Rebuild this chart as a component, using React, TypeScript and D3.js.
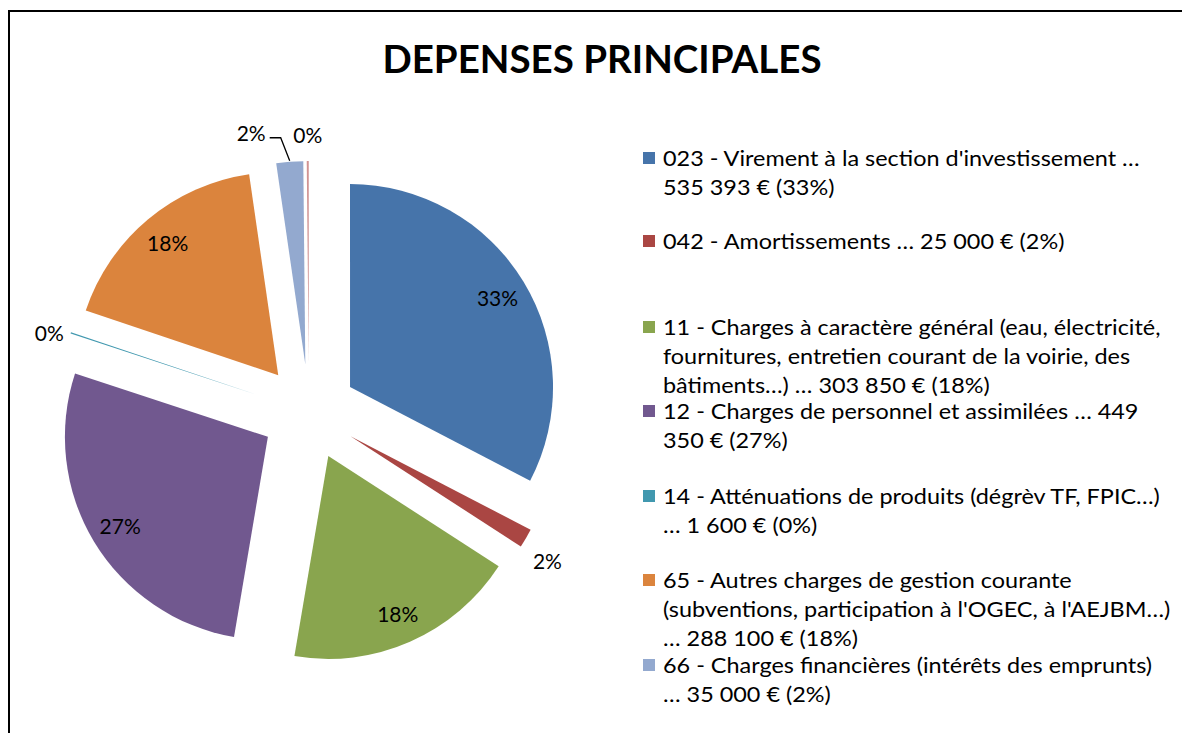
import React from "react";
import * as d3 from "d3";

const categories = [
  "023 - Virement à la section d'investissement",
  "042 - Amortissements",
  "11 - Charges à caractère général",
  "12 - Charges de personnel et assimilées",
  "14 - Atténuations de produits",
  "65 - Autres charges de gestion courante",
  "66 - Charges financières",
  "67 - Charges exceptionnelles",
];
const values = [535393, 25000, 303850, 449350, 1600, 288100, 35000, 2600];
const colors = ["#4674AA", "#AA4643", "#89A54E", "#71588F", "#4198AF", "#DB843D", "#93A9CF", "#D19392"];
const pctLabels = ["33%", "2%", "18%", "27%", "0%", "18%", "2%", "0%"];
const legendLines = [
  ["023 - Virement à la section d'investissement …", "535 393 € (33%)"],
  ["042 - Amortissements … 25 000 € (2%)"],
  ["11 - Charges à caractère général (eau, électricité,", "fournitures, entretien courant de la voirie, des", "bâtiments…) … 303 850 € (18%)"],
  ["12 - Charges de personnel et assimilées … 449", "350 € (27%)"],
  ["14 - Atténuations de produits (dégrèv TF, FPIC…)", "… 1 600 € (0%)"],
  ["65 - Autres charges de gestion courante", "(subventions, participation à l'OGEC, à l'AEJBM…)", "… 288 100 € (18%)"],
  ["66 - Charges financières (intérêts des emprunts)", "… 35 000 € (2%)"],
];
const legendTops = [158, 241, 327, 411, 496, 580, 665];
const title = "DEPENSES PRINCIPALES";

const W = 1182, H = 733;
const CX = 309, CY = 412, R = 203, EXPLODE = 48;
const FONT = "Lato, 'Open Sans', sans-serif";
const TXT_SX = 1.115;

export default function App() {
  const pie = d3.pie<number>().sort(null).value((d) => d).startAngle(0).endAngle(2 * Math.PI);
  const arcs = pie(values);
  const arcGen = d3.arc<d3.PieArcDatum<number>>().innerRadius(0).outerRadius(R);

  const slices = arcs.map((a, i) => {
    const mid = (a.startAngle + a.endAngle) / 2;
    const dx = Math.sin(mid), dy = -Math.cos(mid);
    const ox = CX + EXPLODE * dx, oy = CY + EXPLODE * dy;
    return { a, i, mid, dx, dy, ox, oy };
  });

  const lbl = (key: string, x: number, y: number, anchor: string, t: string) => (
    <text key={key} x={x} y={y} textAnchor={anchor as any} dominantBaseline="central" fontSize={21} fontFamily={FONT} fill="#000">{t}</text>
  );

  const labelEls: React.ReactNode[] = [];
  slices.forEach((s) => {
    const frac = (s.a.endAngle - s.a.startAngle) / (2 * Math.PI);
    const outerX = s.ox + R * s.dx, outerY = s.oy + R * s.dy;
    if (frac > 0.05) {
      labelEls.push(lbl("l" + s.i, s.ox + 0.85 * R * s.dx, s.oy + 0.85 * R * s.dy, "middle", pctLabels[s.i]));
    } else if (s.i === 1) {
      labelEls.push(lbl("l" + s.i, outerX + 7, outerY + 22, "start", pctLabels[s.i]));
    } else if (s.i === 4) {
      labelEls.push(lbl("l" + s.i, outerX - 7, outerY, "end", pctLabels[s.i]));
    } else if (s.i === 6) {
      const p1 = [outerX, outerY - 1];
      const p2 = [outerX - 9, outerY - 24];
      const p3 = [p2[0] - 11, p2[1]];
      labelEls.push(
        <g key={"l" + s.i}>
          <path d={`M${p1[0]},${p1[1]}L${p2[0]},${p2[1]}L${p3[0]},${p3[1]}`} fill="none" stroke="#000" strokeWidth={1.3} />
          {lbl("t", p3[0] - 4, p3[1] - 5, "end", pctLabels[s.i])}
        </g>
      );
    } else {
      labelEls.push(lbl("l" + s.i, outerX, outerY - 27, "middle", pctLabels[s.i]));
    }
  });

  return (
    <svg width={W} height={H} style={{ position: "absolute", left: 0, top: 0, background: "#fff" }}>
      <rect x={0} y={0} width={W} height={H} fill="#fff" />
      <rect x={9} y={11} width={W + 50} height={H + 50} fill="#fff" stroke="#000" strokeWidth={2} />
      <text x={602} y={58} textAnchor="middle" dominantBaseline="central" fontSize={38.5} fontWeight="bold" fontFamily={FONT}>{title}</text>
      <g>
        {slices.map((s) => (
          <path key={s.i} d={arcGen(s.a) || ""} transform={`translate(${s.ox},${s.oy})`} fill={colors[s.i]} />
        ))}
      </g>
      {labelEls}
      <g>
        {legendLines.map((lines, i) => (
          <g key={i}>
            <rect x={643} y={legendTops[i] - 6} width={12} height={12} fill={colors[i]} />
            {lines.map((ln, j) => (
              <text key={j} transform={`translate(663,${legendTops[i] + j * 29}) scale(${TXT_SX},1)`} dominantBaseline="central" fontSize={21} fontFamily={FONT} fill="#000">{ln}</text>
            ))}
          </g>
        ))}
      </g>
    </svg>
  );
}
